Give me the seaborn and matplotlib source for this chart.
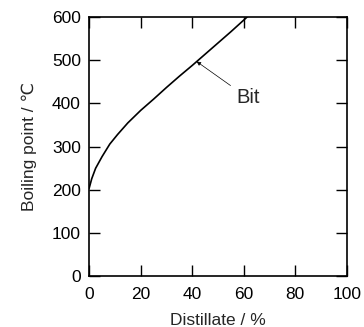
import matplotlib
matplotlib.use("Agg")
import matplotlib.pyplot as plt
import seaborn as sns
import pandas as pd

# Distillation curve
distillate = [0, 1, 2.5, 5, 8, 11, 15, 20, 25, 30, 35, 40, 45, 50, 55, 60, 62]
boiling = [204, 226, 250, 277, 306, 328, 355, 384, 410, 437, 463, 488, 514, 540, 566, 593, 604]
df = pd.DataFrame({"Distillate": distillate, "Boiling": boiling})

sns.set_style("ticks")
plt.rcParams["font.family"] = ["Liberation Sans", "DejaVu Sans"]

fig, ax = plt.subplots(figsize=(3.64, 3.27), dpi=100)
sns.lineplot(data=df, x="Distillate", y="Boiling", color="black", linewidth=1.2, ax=ax)

ax.set_xlim(0, 100)
ax.set_ylim(0, 600)
ax.set_xticks([0, 20, 40, 60, 80, 100])
ax.set_yticks([0, 100, 200, 300, 400, 500, 600])
ax.tick_params(direction="in", length=8, width=1, top=True, right=True,
               labelsize=12.5, colors="black")
ax.tick_params(axis="x", pad=7.5)
ax.tick_params(axis="y", pad=6)
for s in ax.spines.values():
    s.set_linewidth(1.2)
    s.set_color("black")

ax.set_xlabel("Distillate / %", fontsize=12.5, labelpad=8)
ax.set_ylabel("Boiling point / ℃", fontsize=12.5, labelpad=11)

ax.annotate("Bit", xy=(41.7, 497), xytext=(57, 413), fontsize=14.5,
            va="center", ha="left",
            arrowprops=dict(arrowstyle="-|>", color="black", lw=0.5,
                            mutation_scale=6, shrinkA=2, shrinkB=0))

fig.subplots_adjust(left=0.245, right=0.953, top=0.948, bottom=0.155)
fig.savefig("out.png", dpi=100)
